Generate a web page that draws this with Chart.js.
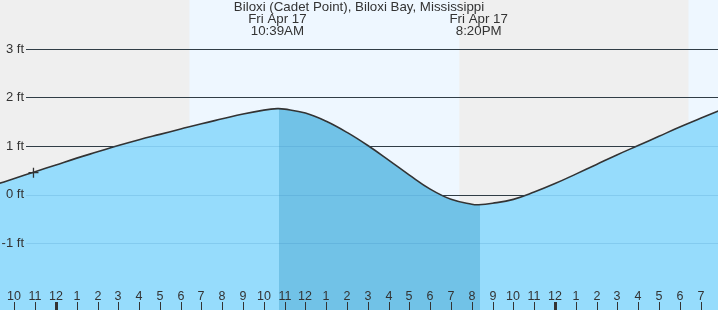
<!DOCTYPE html>
<html>
<head>
<meta charset="utf-8">
<script src="https://cdn.jsdelivr.net/npm/chart.js@4/dist/chart.umd.min.js"></script>
<style>
  body { margin: 0; background: #efefef; }
  #caixa { width: 718px; height: 310px; position: relative; }
</style>
</head>
<body>
<div id="caixa"><canvas id="grafico"></canvas></div>
<script>
const ctx = document.getElementById('grafico').getContext('2d');

// Dados -------------------------------------------------------

// horas desde a meia-noite de Fri Apr 17
const horas = [-3, -2, -1, 0, 1, 2, 3, 4, 5, 6, 7, 8, 9, 10, 10.65, 11, 12, 13, 14, 15, 16, 17, 18, 19, 20, 20.33, 21, 22, 23, 24, 25, 26, 27, 28, 29, 30, 31, 32]
// altura da mare (ft)
const mare = [0.19, 0.33, 0.47, 0.61, 0.75, 0.88, 1.01, 1.13, 1.24, 1.35, 1.46, 1.56, 1.66, 1.74, 1.77, 1.76, 1.68, 1.51, 1.28, 1.01, 0.71, 0.40, 0.11, -0.10, -0.20, -0.21, -0.18, -0.10, 0.05, 0.225, 0.42, 0.62, 0.82, 1.01, 1.20, 1.39, 1.57, 1.75]

// marcador da hora atual
const agora = [{ x: -1.08, y: 0.45 }]

// eixo Y
const ticksY = [-1, 0, 1, 2, 3]
// eixo X (uma marca por hora)
const ticksX = [-2, -1, 0, 1, 2, 3, 4, 5, 6, 7, 8, 9, 10, 11, 12, 13, 14, 15, 16, 17, 18, 19, 20, 21, 22, 23, 24, 25, 26, 27, 28, 29, 30, 31]

// periodos de dia (nascer, por do sol)
const dias = [[6.42, 19.40], [30.42, 43.40]]
// faixa escura (preamar ate baixamar)
const faixa = [10.72, 20.40]

// preamar / baixamar
const extremos = [10.65, 20.33]
const textosExtremos = [['Fri Apr 17', '10:39AM'], ['Fri Apr 17', '8:20PM']]

const titulo = 'Biloxi (Cadet Point), Biloxi Bay, Mississippi'

const fonte = '"Liberation Sans", Arial, sans-serif'

// Plugins -------------------------------------------------------

const fundo = {
  id: 'fundo',
  beforeDatasetsDraw(chart) {
    const c = chart.ctx
    const x = chart.scales.x
    const y = chart.scales.y
    c.save()
    c.fillStyle = '#efefef'
    c.fillRect(0, 0, chart.width, chart.height)
    c.fillStyle = '#eef7ff'
    dias.forEach(d => {
      const x1 = x.getPixelForValue(d[0])
      const x2 = x.getPixelForValue(d[1])
      c.fillRect(x1, 0, x2 - x1, chart.height)
    })
    // linhas de grade
    c.strokeStyle = '#333'
    c.lineWidth = 1
    ticksY.forEach(v => {
      const py = Math.round(y.getPixelForValue(v)) + 0.5
      c.beginPath()
      c.moveTo(26, py)
      c.lineTo(chart.width, py)
      c.stroke()
    })
    c.restore()
  },
  afterDatasetsDraw(chart) {
    const c = chart.ctx
    const x = chart.scales.x
    const y = chart.scales.y
    c.save()
    // grade clara por cima da agua
    c.strokeStyle = 'rgba(40, 120, 175, 0.16)'
    c.lineWidth = 1
    ticksY.forEach(v => {
      const py = Math.round(y.getPixelForValue(v)) + 0.5
      c.beginPath()
      c.moveTo(26, py)
      c.lineTo(chart.width, py)
      c.stroke()
    })
    c.fillStyle = '#333'
    c.font = '13px ' + fonte
    c.textAlign = 'right'
    c.textBaseline = 'middle'
    ticksY.forEach(v => {
      c.fillText(v + ' ft', 24, y.getPixelForValue(v))
    })
    // eixo X
    c.font = '12.5px ' + fonte
    c.textAlign = 'center'
    c.textBaseline = 'alphabetic'
    ticksX.forEach(h => {
      const px = Math.round(x.getPixelForValue(h))
      let hr = ((h % 12) + 12) % 12
      if (hr == 0) hr = 12
      c.fillText(String(hr), px, 300)
      const meia = ((h % 24) + 24) % 24 == 0
      c.fillRect(px - (meia ? 1 : 0), 302, meia ? 3 : 1, 8)
    })
    // titulo e extremos
    c.font = '13.3px ' + fonte
    c.textBaseline = 'middle'
    c.fillText(titulo, chart.width / 2, 7)
    extremos.forEach((h, i) => {
      const px = x.getPixelForValue(h)
      c.fillText(textosExtremos[i][0], px, 19)
      c.fillText(textosExtremos[i][1], px, 31)
    })
    c.restore()
  }
}

// Grafico -------------------------------------------------------

function corAgua(context) {
  const chart = context.chart
  const area = chart.chartArea
  if (!area || !chart.scales.x) return '#96dcfc'
  const x = chart.scales.x
  const largura = area.right - area.left
  const a = Math.min(Math.max((x.getPixelForValue(faixa[0]) - area.left) / largura, 0), 1)
  const b = Math.min(Math.max((x.getPixelForValue(faixa[1]) - area.left) / largura, 0), 1)
  const g = chart.ctx.createLinearGradient(area.left, 0, area.right, 0)
  g.addColorStop(0, '#96dcfc')
  g.addColorStop(a, '#96dcfc')
  g.addColorStop(a, '#71c2e7')
  g.addColorStop(b, '#71c2e7')
  g.addColorStop(b, '#96dcfc')
  g.addColorStop(1, '#96dcfc')
  return g
}

const data = {
  datasets: [{
    type: 'scatter',
    data: agora,
    pointStyle: 'cross',
    pointRadius: 5,
    borderColor: '#333',
    borderWidth: 1.3,
    backgroundColor: '#333'
  }, {
    type: 'line',
    data: horas.map((h, i) => ({ x: h, y: mare[i] })),
    borderColor: '#333',
    borderWidth: 1.6,
    backgroundColor: corAgua,
    fill: 'start',
    pointRadius: 0,
    tension: 0.4
  }]
}

const config = {
  type: 'line',
  data,
  options: {
    responsive: true,
    maintainAspectRatio: false,
    animation: false,
    layout: { padding: 0, autoPadding: false },
    scales: {
      x: { type: 'linear', min: -2.69, max: 31.84, display: false },
      y: { min: -2.381, max: 4.01, display: false }
    },
    plugins: {
      legend: false,
      tooltip: { enabled: false }
    }
  },
  plugins: [fundo]
}

new Chart(ctx, config)
</script>
</body>
</html>
